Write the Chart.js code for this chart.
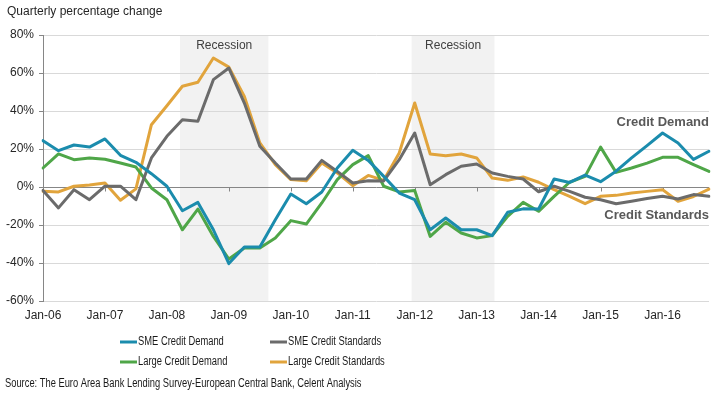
<!DOCTYPE html>
<html>
<head>
<meta charset="utf-8">
<script src="https://cdn.jsdelivr.net/npm/chart.js@4.4.0/dist/chart.umd.min.js"></script>
<style>
  body { margin: 0; background: #fff; }
  #wrap { width: 716px; height: 395px; }
</style>
</head>
<body>
<div id="wrap"><canvas id="lendingChart"></canvas></div>
<script>
const quarters = [
  "Jan-06", "Apr-06", "Jul-06", "Oct-06", "Jan-07", "Apr-07", "Jul-07", "Oct-07",
  "Jan-08", "Apr-08", "Jul-08", "Oct-08", "Jan-09", "Apr-09", "Jul-09", "Oct-09",
  "Jan-10", "Apr-10", "Jul-10", "Oct-10", "Jan-11", "Apr-11", "Jul-11", "Oct-11",
  "Jan-12", "Apr-12", "Jul-12", "Oct-12", "Jan-13", "Apr-13", "Jul-13", "Oct-13",
  "Jan-14", "Apr-14", "Jul-14", "Oct-14", "Jan-15", "Apr-15", "Jul-15", "Oct-15",
  "Jan-16", "Apr-16", "Jul-16", "Oct-16",
];

const smeDemand = [
  24.4, 19.1, 22.1, 21.0, 25.3, 16.7, 13.0, 7.0, 0.4, -12.5, -8.1, -22.5,
  -40.3, -31.6, -31.6, -17.2, -3.7, -8.8, -2.6, 10.0, 19.3, 14.0, 5.6, -3.2,
  -6.7, -22.5, -16.3, -22.5, -22.5, -25.6, -13.3, -11.5, -11.6, 4.2, 2.4, 6.3,
  2.8, 8.3, 15.3, 21.8, 28.4, 23.2, 14.5, 18.8,
];
const smeStandards = [
  -1.8, -11.0, -1.4, -6.7, 0.4, 0.4, -6.7, 15.3, 26.7, 35.4, 34.6, 56.5,
  62.6, 44.2, 21.4, 12.6, 4.2, 4.2, 14.0, 8.2, 2.1, 3.3, 3.2, 14.4,
  28.4, 1.2, 6.5, 10.9, 12.1, 7.4, 5.6, 4.2, -2.5, 0.4, -2.3, -5.4,
  -6.7, -8.8, -7.5, -6.1, -4.9, -6.3, -4.0, -4.9,
];
const largeDemand = [
  10.0, 17.4, 14.4, 15.3, 14.6, 12.6, 10.5, -0.5, -6.7, -22.5, -11.6, -26.0,
  -37.9, -32.1, -32.1, -26.8, -17.7, -19.5, -8.4, 3.9, 11.8, 16.5, 0.4, -2.6,
  -1.8, -26.0, -18.6, -24.2, -26.8, -25.6, -15.4, -8.1, -12.8, -4.9, 2.5, 5.6,
  21.0, 7.7, 10.0, 12.6, 15.6, 15.6, 11.8, 8.2,
];
const largeStandards = [
  -2.3, -2.6, 0.4, 1.1, 2.1, -7.0, -1.0, 32.8, 42.8, 53.0, 55.1, 67.9,
  63.1, 47.7, 23.2, 11.8, 3.9, 3.3, 12.6, 7.4, 0.7, 6.1, 3.5, 17.9,
  44.2, 17.4, 16.5, 17.4, 15.3, 4.7, 3.5, 5.3, 2.5, -1.4, -4.9, -8.8,
  -4.9, -4.4, -3.2, -2.3, -1.4, -7.5, -5.0, -1.1,
];

// recession periods, in quarter index units
const recessions = [[8.85, 14.55], [23.8, 29.15]];
const yTicks = [-60, -40, -20, 0, 20, 40, 60, 80];

function narrowText(ctx, text, x, y, sx) {
  ctx.save();
  ctx.translate(x, y);
  ctx.scale(sx, 1);
  ctx.fillText(text, 0, 0);
  ctx.restore();
}

const decor = {
  id: "decor",
  beforeDraw(chart) {
    const { ctx, chartArea: a, scales: { x } } = chart;
    ctx.save();
    ctx.fillStyle = "#f2f2f2";
    recessions.forEach(([s, e]) => {
      const x0 = x.getPixelForValue(s);
      const x1 = x.getPixelForValue(e);
      ctx.fillRect(x0, a.top, x1 - x0, a.bottom - a.top);
    });
    ctx.restore();
  },
  beforeDatasetsDraw(chart) {
    const { ctx, scales: { x, y } } = chart;
    const y0 = Math.round(y.getPixelForValue(0)) + 0.5;
    ctx.save();
    ctx.strokeStyle = "#868686";
    ctx.lineWidth = 1;
    ctx.beginPath();
    for (let i = 4; i < quarters.length; i += 4) {
      const px = Math.round(x.getPixelForValue(i)) + 0.5;
      ctx.moveTo(px, y0);
      ctx.lineTo(px, y0 + 4);
    }
    ctx.stroke();
    ctx.restore();
  },
  afterDraw(chart) {
    const { ctx, chartArea: a, scales: { x, y } } = chart;
    ctx.save();

    ctx.fillStyle = "#262626";
    ctx.font = "12px 'Liberation Sans', Arial";
    ctx.textBaseline = "middle";
    ctx.textAlign = "left";
    ctx.fillText("Quarterly percentage change", 7, 12);

    ctx.fillStyle = "#404040";
    ctx.textAlign = "center";
    recessions.forEach(([s, e]) => {
      const cx = (x.getPixelForValue(s) + x.getPixelForValue(e)) / 2;
      ctx.fillText("Recession", cx, a.top + 11);
    });

    ctx.fillStyle = "#595959";
    ctx.font = "bold 13px 'Liberation Sans', Arial";
    ctx.textAlign = "right";
    ctx.fillText("Credit Demand", a.right, y.getPixelForValue(34));
    ctx.fillText("Credit Standards", a.right, y.getPixelForValue(-15));

    // legend, 2 x 2
    ctx.font = "12px 'Liberation Sans', Arial";
    ctx.textAlign = "left";
    const colX = [120, 270];
    const rowY = [342, 362];
    chart.data.datasets.forEach((ds, i) => {
      const lx = colX[i % 2];
      const ly = rowY[Math.floor(i / 2)];
      ctx.strokeStyle = ds.borderColor;
      ctx.lineWidth = 3;
      ctx.beginPath();
      ctx.moveTo(lx, ly);
      ctx.lineTo(lx + 17, ly);
      ctx.stroke();
      ctx.fillStyle = "#1a1a1a";
      narrowText(ctx, ds.label, lx + 18, ly, 0.78);
    });

    ctx.fillStyle = "#1a1a1a";
    narrowText(ctx, "Source: The Euro Area Bank Lending Survey-European Central Bank, Celent Analysis", 5, 384, 0.778);
    ctx.restore();
  },
};

const lendingChart = new Chart(document.getElementById("lendingChart"), {
  type: "line",
  plugins: [decor],
  data: {
    labels: quarters,
    datasets: [
      { label: "SME Credit Demand", data: smeDemand, borderColor: "#1b8cad" },
      { label: "SME Credit Standards", data: smeStandards, borderColor: "#6b6b6b" },
      { label: "Large Credit Demand", data: largeDemand, borderColor: "#4fa648" },
      { label: "Large Credit Standards", data: largeStandards, borderColor: "#e1a43c" },
    ],
  },
  options: {
    responsive: true,
    maintainAspectRatio: false,
    animation: false,
    layout: { padding: { top: 35, right: 3, bottom: 64, left: 0 } },
    elements: {
      line: { borderWidth: 3, tension: 0, borderJoinStyle: "round", borderCapStyle: "round" },
      point: { radius: 0, hoverRadius: 0 },
    },
    plugins: {
      legend: { display: false },
      tooltip: { enabled: false },
    },
    scales: {
      x: {
        grid: { display: false, drawTicks: false },
        border: { display: false },
        afterFit: (s) => { s.height = 30; },
        ticks: {
          autoSkip: false,
          maxRotation: 0,
          padding: 7,
          color: "#262626",
          font: { family: "'Liberation Sans', Arial", size: 12 },
          callback: (v, i) => (i % 4 === 0 ? quarters[i] : ""),
        },
      },
      y: {
        min: yTicks[0],
        max: yTicks[yTicks.length - 1],
        afterFit: (s) => { s.width = 43; },
        afterBuildTicks: (s) => { s.ticks = yTicks.map((v) => ({ value: v })); },
        grid: {
          color: (c) => (c.tick && c.tick.value === 0 ? "#868686" : "#d9d9d9"),
          tickColor: "#868686",
          tickLength: 4,
        },
        border: { display: true, color: "#868686" },
        ticks: {
          padding: 5,
          color: "#262626",
          font: { family: "'Liberation Sans', Arial", size: 12 },
          callback: (v) => v + "%",
        },
      },
    },
  },
});
</script>
</body>
</html>
